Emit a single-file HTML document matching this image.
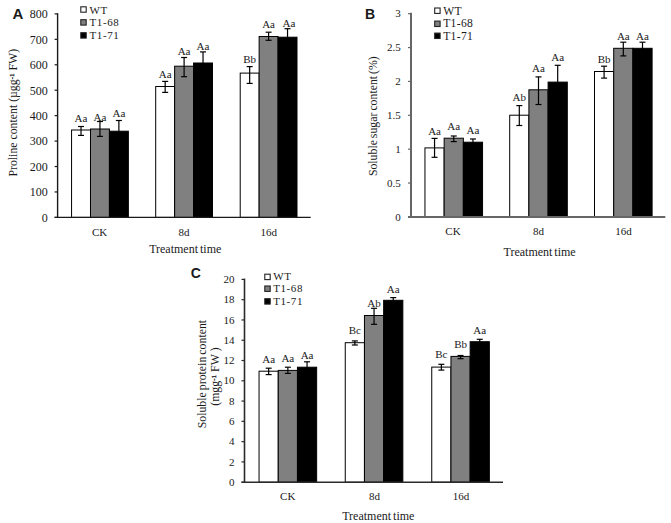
<!DOCTYPE html><html><head><meta charset="utf-8"><title>Charts</title><style>html,body{margin:0;padding:0;background:#fff;}svg{display:block;font-family:"Liberation Serif",serif;}text{fill:#1a1a1a;}</style></head><body>
<svg width="671" height="523" viewBox="0 0 671 523">
<rect width="671" height="523" fill="#fff"/>
<line x1="54.60" y1="217.40" x2="57.60" y2="217.40" stroke="#1a1a1a" stroke-width="1.2"/>
<text x="47.80" y="221.70" font-size="12" text-anchor="end" >0</text>
<line x1="54.60" y1="191.96" x2="57.60" y2="191.96" stroke="#1a1a1a" stroke-width="1.2"/>
<text x="47.80" y="196.26" font-size="12" text-anchor="end" >100</text>
<line x1="54.60" y1="166.53" x2="57.60" y2="166.53" stroke="#1a1a1a" stroke-width="1.2"/>
<text x="47.80" y="170.83" font-size="12" text-anchor="end" >200</text>
<line x1="54.60" y1="141.09" x2="57.60" y2="141.09" stroke="#1a1a1a" stroke-width="1.2"/>
<text x="47.80" y="145.39" font-size="12" text-anchor="end" >300</text>
<line x1="54.60" y1="115.65" x2="57.60" y2="115.65" stroke="#1a1a1a" stroke-width="1.2"/>
<text x="47.80" y="119.95" font-size="12" text-anchor="end" >400</text>
<line x1="54.60" y1="90.21" x2="57.60" y2="90.21" stroke="#1a1a1a" stroke-width="1.2"/>
<text x="47.80" y="94.51" font-size="12" text-anchor="end" >500</text>
<line x1="54.60" y1="64.78" x2="57.60" y2="64.78" stroke="#1a1a1a" stroke-width="1.2"/>
<text x="47.80" y="69.08" font-size="12" text-anchor="end" >600</text>
<line x1="54.60" y1="39.34" x2="57.60" y2="39.34" stroke="#1a1a1a" stroke-width="1.2"/>
<text x="47.80" y="43.64" font-size="12" text-anchor="end" >700</text>
<line x1="54.60" y1="13.90" x2="57.60" y2="13.90" stroke="#1a1a1a" stroke-width="1.2"/>
<text x="47.80" y="18.20" font-size="12" text-anchor="end" >800</text>
<rect x="71.56" y="130.00" width="18.93" height="87.40" fill="#fff" stroke="#000" stroke-width="1"/>
<rect x="90.49" y="129.00" width="18.93" height="88.40" fill="#808080" stroke="#000" stroke-width="1"/>
<rect x="109.42" y="131.20" width="18.93" height="86.20" fill="#000" stroke="#000" stroke-width="1"/>
<line x1="81.02" y1="126.50" x2="81.02" y2="135.40" stroke="#000" stroke-width="1.2"/>
<line x1="78.02" y1="126.50" x2="84.02" y2="126.50" stroke="#000" stroke-width="1.2"/>
<line x1="78.02" y1="135.40" x2="84.02" y2="135.40" stroke="#000" stroke-width="1.2"/>
<text x="81.02" y="122.40" font-size="11" text-anchor="middle" >Aa</text>
<line x1="99.95" y1="121.50" x2="99.95" y2="136.40" stroke="#000" stroke-width="1.2"/>
<line x1="96.95" y1="121.50" x2="102.95" y2="121.50" stroke="#000" stroke-width="1.2"/>
<line x1="96.95" y1="136.40" x2="102.95" y2="136.40" stroke="#000" stroke-width="1.2"/>
<text x="99.95" y="120.50" font-size="11" text-anchor="middle" >Aa</text>
<line x1="118.88" y1="120.50" x2="118.88" y2="141.90" stroke="#000" stroke-width="1.2"/>
<line x1="115.88" y1="120.50" x2="121.88" y2="120.50" stroke="#000" stroke-width="1.2"/>
<text x="118.88" y="116.70" font-size="11" text-anchor="middle" >Aa</text>
<rect x="155.70" y="86.50" width="18.93" height="130.90" fill="#fff" stroke="#000" stroke-width="1"/>
<rect x="174.63" y="66.20" width="18.93" height="151.20" fill="#808080" stroke="#000" stroke-width="1"/>
<rect x="193.56" y="63.00" width="18.93" height="154.40" fill="#000" stroke="#000" stroke-width="1"/>
<line x1="165.17" y1="81.40" x2="165.17" y2="92.40" stroke="#000" stroke-width="1.2"/>
<line x1="162.17" y1="81.40" x2="168.17" y2="81.40" stroke="#000" stroke-width="1.2"/>
<line x1="162.17" y1="92.40" x2="168.17" y2="92.40" stroke="#000" stroke-width="1.2"/>
<text x="165.17" y="77.90" font-size="11" text-anchor="middle" >Aa</text>
<line x1="184.10" y1="57.50" x2="184.10" y2="76.70" stroke="#000" stroke-width="1.2"/>
<line x1="181.10" y1="57.50" x2="187.10" y2="57.50" stroke="#000" stroke-width="1.2"/>
<line x1="181.10" y1="76.70" x2="187.10" y2="76.70" stroke="#000" stroke-width="1.2"/>
<text x="184.10" y="55.30" font-size="11" text-anchor="middle" >Aa</text>
<line x1="203.03" y1="51.90" x2="203.03" y2="74.10" stroke="#000" stroke-width="1.2"/>
<line x1="200.03" y1="51.90" x2="206.03" y2="51.90" stroke="#000" stroke-width="1.2"/>
<text x="203.03" y="50.10" font-size="11" text-anchor="middle" >Aa</text>
<rect x="240.21" y="73.10" width="18.93" height="144.30" fill="#fff" stroke="#000" stroke-width="1"/>
<rect x="259.13" y="36.50" width="18.93" height="180.90" fill="#808080" stroke="#000" stroke-width="1"/>
<rect x="278.06" y="37.20" width="18.93" height="180.20" fill="#000" stroke="#000" stroke-width="1"/>
<line x1="249.67" y1="66.60" x2="249.67" y2="83.40" stroke="#000" stroke-width="1.2"/>
<line x1="246.67" y1="66.60" x2="252.67" y2="66.60" stroke="#000" stroke-width="1.2"/>
<line x1="246.67" y1="83.40" x2="252.67" y2="83.40" stroke="#000" stroke-width="1.2"/>
<text x="249.67" y="62.80" font-size="11" text-anchor="middle" >Bb</text>
<line x1="268.60" y1="32.20" x2="268.60" y2="40.30" stroke="#000" stroke-width="1.2"/>
<line x1="265.60" y1="32.20" x2="271.60" y2="32.20" stroke="#000" stroke-width="1.2"/>
<line x1="265.60" y1="40.30" x2="271.60" y2="40.30" stroke="#000" stroke-width="1.2"/>
<text x="268.60" y="27.90" font-size="11" text-anchor="middle" >Aa</text>
<line x1="287.53" y1="28.70" x2="287.53" y2="45.70" stroke="#000" stroke-width="1.2"/>
<line x1="284.53" y1="28.70" x2="290.53" y2="28.70" stroke="#000" stroke-width="1.2"/>
<text x="289.03" y="26.50" font-size="11" text-anchor="middle" >Aa</text>
<line x1="57.60" y1="13.20" x2="57.60" y2="217.40" stroke="#1a1a1a" stroke-width="1.4"/>
<line x1="54.60" y1="217.40" x2="310.70" y2="217.40" stroke="#1a1a1a" stroke-width="1.4"/>
<text x="99.65" y="236.00" font-size="11" text-anchor="middle" >CK</text>
<text x="184.10" y="236.00" font-size="11" text-anchor="middle" >8d</text>
<text x="268.70" y="236.00" font-size="11" text-anchor="middle" >16d</text>
<text x="185.25" y="253.20" font-size="12" text-anchor="middle" word-spacing="-1">Treatment time</text>
<rect x="80.80" y="6.80" width="5.4" height="5.4" fill="#fff" stroke="#222" stroke-width="1.1"/>
<text x="89.50" y="13.90" font-size="11" text-anchor="start" letter-spacing="0.6">WT</text>
<rect x="80.80" y="19.70" width="5.4" height="5.4" fill="#808080" stroke="#222" stroke-width="1.1"/>
<text x="89.50" y="26.40" font-size="11" text-anchor="start" letter-spacing="0.6">T1-68</text>
<rect x="80.80" y="32.70" width="5.4" height="5.4" fill="#000" stroke="#222" stroke-width="1.1"/>
<text x="89.50" y="38.90" font-size="11" text-anchor="start" letter-spacing="0.6">T1-71</text>
<text x="12.6" y="18.8" font-family="Liberation Sans, sans-serif" font-weight="bold" font-size="15">A</text>
<line x1="408.00" y1="216.90" x2="411.00" y2="216.90" stroke="#666" stroke-width="1.2"/>
<text x="400.80" y="220.50" font-size="11" text-anchor="end" >0</text>
<line x1="408.00" y1="183.03" x2="411.00" y2="183.03" stroke="#666" stroke-width="1.2"/>
<text x="400.80" y="186.63" font-size="11" text-anchor="end" >0.5</text>
<line x1="408.00" y1="149.17" x2="411.00" y2="149.17" stroke="#666" stroke-width="1.2"/>
<text x="400.80" y="152.77" font-size="11" text-anchor="end" >1</text>
<line x1="408.00" y1="115.30" x2="411.00" y2="115.30" stroke="#666" stroke-width="1.2"/>
<text x="400.80" y="118.90" font-size="11" text-anchor="end" >1.5</text>
<line x1="408.00" y1="81.43" x2="411.00" y2="81.43" stroke="#666" stroke-width="1.2"/>
<text x="400.80" y="85.03" font-size="11" text-anchor="end" >2</text>
<line x1="408.00" y1="47.57" x2="411.00" y2="47.57" stroke="#666" stroke-width="1.2"/>
<text x="400.80" y="51.17" font-size="11" text-anchor="end" >2.5</text>
<line x1="408.00" y1="13.70" x2="411.00" y2="13.70" stroke="#666" stroke-width="1.2"/>
<text x="400.80" y="17.30" font-size="11" text-anchor="end" >3</text>
<rect x="424.95" y="147.90" width="19.20" height="69.00" fill="#fff" stroke="#000" stroke-width="1"/>
<rect x="444.15" y="138.20" width="19.20" height="78.70" fill="#808080" stroke="#000" stroke-width="1"/>
<rect x="463.35" y="142.20" width="19.20" height="74.70" fill="#000" stroke="#000" stroke-width="1"/>
<line x1="434.55" y1="138.40" x2="434.55" y2="157.30" stroke="#000" stroke-width="1.2"/>
<line x1="431.55" y1="138.40" x2="437.55" y2="138.40" stroke="#000" stroke-width="1.2"/>
<line x1="431.55" y1="157.30" x2="437.55" y2="157.30" stroke="#000" stroke-width="1.2"/>
<text x="434.55" y="134.70" font-size="11" text-anchor="middle" >Aa</text>
<line x1="453.75" y1="136.00" x2="453.75" y2="141.60" stroke="#000" stroke-width="1.2"/>
<line x1="450.75" y1="136.00" x2="456.75" y2="136.00" stroke="#000" stroke-width="1.2"/>
<line x1="450.75" y1="141.60" x2="456.75" y2="141.60" stroke="#000" stroke-width="1.2"/>
<text x="453.75" y="129.70" font-size="11" text-anchor="middle" >Aa</text>
<line x1="472.95" y1="139.00" x2="472.95" y2="145.40" stroke="#000" stroke-width="1.2"/>
<line x1="469.95" y1="139.00" x2="475.95" y2="139.00" stroke="#000" stroke-width="1.2"/>
<text x="472.95" y="133.60" font-size="11" text-anchor="middle" >Aa</text>
<rect x="509.70" y="115.20" width="19.20" height="101.70" fill="#fff" stroke="#000" stroke-width="1"/>
<rect x="528.90" y="89.80" width="19.20" height="127.10" fill="#808080" stroke="#000" stroke-width="1"/>
<rect x="548.10" y="82.10" width="19.20" height="134.80" fill="#000" stroke="#000" stroke-width="1"/>
<line x1="519.30" y1="105.60" x2="519.30" y2="125.50" stroke="#000" stroke-width="1.2"/>
<line x1="516.30" y1="105.60" x2="522.30" y2="105.60" stroke="#000" stroke-width="1.2"/>
<line x1="516.30" y1="125.50" x2="522.30" y2="125.50" stroke="#000" stroke-width="1.2"/>
<text x="519.30" y="100.90" font-size="11" text-anchor="middle" >Ab</text>
<line x1="538.50" y1="76.90" x2="538.50" y2="104.50" stroke="#000" stroke-width="1.2"/>
<line x1="535.50" y1="76.90" x2="541.50" y2="76.90" stroke="#000" stroke-width="1.2"/>
<line x1="535.50" y1="104.50" x2="541.50" y2="104.50" stroke="#000" stroke-width="1.2"/>
<text x="538.50" y="72.00" font-size="11" text-anchor="middle" >Aa</text>
<line x1="557.70" y1="65.30" x2="557.70" y2="98.90" stroke="#000" stroke-width="1.2"/>
<line x1="554.70" y1="65.30" x2="560.70" y2="65.30" stroke="#000" stroke-width="1.2"/>
<text x="557.70" y="61.40" font-size="11" text-anchor="middle" >Aa</text>
<rect x="594.50" y="71.50" width="19.20" height="145.40" fill="#fff" stroke="#000" stroke-width="1"/>
<rect x="613.70" y="48.30" width="19.20" height="168.60" fill="#808080" stroke="#000" stroke-width="1"/>
<rect x="632.90" y="48.30" width="19.20" height="168.60" fill="#000" stroke="#000" stroke-width="1"/>
<line x1="604.10" y1="66.20" x2="604.10" y2="78.10" stroke="#000" stroke-width="1.2"/>
<line x1="601.10" y1="66.20" x2="607.10" y2="66.20" stroke="#000" stroke-width="1.2"/>
<line x1="601.10" y1="78.10" x2="607.10" y2="78.10" stroke="#000" stroke-width="1.2"/>
<text x="604.10" y="63.10" font-size="11" text-anchor="middle" >Bb</text>
<line x1="623.30" y1="42.20" x2="623.30" y2="55.90" stroke="#000" stroke-width="1.2"/>
<line x1="620.30" y1="42.20" x2="626.30" y2="42.20" stroke="#000" stroke-width="1.2"/>
<line x1="620.30" y1="55.90" x2="626.30" y2="55.90" stroke="#000" stroke-width="1.2"/>
<text x="623.30" y="39.90" font-size="11" text-anchor="middle" >Aa</text>
<line x1="642.50" y1="42.20" x2="642.50" y2="54.40" stroke="#000" stroke-width="1.2"/>
<line x1="639.50" y1="42.20" x2="645.50" y2="42.20" stroke="#000" stroke-width="1.2"/>
<text x="642.50" y="39.90" font-size="11" text-anchor="middle" >Aa</text>
<line x1="411.00" y1="12.70" x2="411.00" y2="216.90" stroke="#666" stroke-width="2"/>
<line x1="408.00" y1="216.90" x2="665.30" y2="216.90" stroke="#666" stroke-width="2"/>
<text x="453.00" y="235.30" font-size="11" text-anchor="middle" >CK</text>
<text x="538.50" y="235.30" font-size="11" text-anchor="middle" >8d</text>
<text x="623.50" y="235.30" font-size="11" text-anchor="middle" >16d</text>
<text x="539.60" y="255.50" font-size="12" text-anchor="middle" word-spacing="-1">Treatment time</text>
<rect x="434.70" y="8.00" width="5.4" height="5.4" fill="#fff" stroke="#222" stroke-width="1.1"/>
<text x="443.20" y="14.60" font-size="11.6" text-anchor="start" letter-spacing="0.35">WT</text>
<rect x="434.70" y="21.10" width="5.4" height="5.4" fill="#808080" stroke="#222" stroke-width="1.1"/>
<text x="443.20" y="27.20" font-size="11.6" text-anchor="start" letter-spacing="0.35">T1-68</text>
<rect x="434.70" y="33.10" width="5.4" height="5.4" fill="#000" stroke="#222" stroke-width="1.1"/>
<text x="443.20" y="39.80" font-size="11.6" text-anchor="start" letter-spacing="0.35">T1-71</text>
<text x="365.1" y="18.7" font-family="Liberation Sans, sans-serif" font-weight="bold" font-size="14">B</text>
<line x1="241.50" y1="482.20" x2="244.50" y2="482.20" stroke="#2a2a2a" stroke-width="1.2"/>
<text x="234.60" y="485.80" font-size="11" text-anchor="end" >0</text>
<line x1="241.50" y1="461.92" x2="244.50" y2="461.92" stroke="#2a2a2a" stroke-width="1.2"/>
<text x="234.60" y="465.52" font-size="11" text-anchor="end" >2</text>
<line x1="241.50" y1="441.64" x2="244.50" y2="441.64" stroke="#2a2a2a" stroke-width="1.2"/>
<text x="234.60" y="445.24" font-size="11" text-anchor="end" >4</text>
<line x1="241.50" y1="421.36" x2="244.50" y2="421.36" stroke="#2a2a2a" stroke-width="1.2"/>
<text x="234.60" y="424.96" font-size="11" text-anchor="end" >6</text>
<line x1="241.50" y1="401.08" x2="244.50" y2="401.08" stroke="#2a2a2a" stroke-width="1.2"/>
<text x="234.60" y="404.68" font-size="11" text-anchor="end" >8</text>
<line x1="241.50" y1="380.80" x2="244.50" y2="380.80" stroke="#2a2a2a" stroke-width="1.2"/>
<text x="234.60" y="384.40" font-size="11" text-anchor="end" >10</text>
<line x1="241.50" y1="360.52" x2="244.50" y2="360.52" stroke="#2a2a2a" stroke-width="1.2"/>
<text x="234.60" y="364.12" font-size="11" text-anchor="end" >12</text>
<line x1="241.50" y1="340.24" x2="244.50" y2="340.24" stroke="#2a2a2a" stroke-width="1.2"/>
<text x="234.60" y="343.84" font-size="11" text-anchor="end" >14</text>
<line x1="241.50" y1="319.96" x2="244.50" y2="319.96" stroke="#2a2a2a" stroke-width="1.2"/>
<text x="234.60" y="323.56" font-size="11" text-anchor="end" >16</text>
<line x1="241.50" y1="299.68" x2="244.50" y2="299.68" stroke="#2a2a2a" stroke-width="1.2"/>
<text x="234.60" y="303.28" font-size="11" text-anchor="end" >18</text>
<line x1="241.50" y1="279.40" x2="244.50" y2="279.40" stroke="#2a2a2a" stroke-width="1.2"/>
<text x="234.60" y="283.00" font-size="11" text-anchor="end" >20</text>
<rect x="259.05" y="371.20" width="19.20" height="111.00" fill="#fff" stroke="#000" stroke-width="1"/>
<rect x="278.25" y="370.40" width="19.20" height="111.80" fill="#808080" stroke="#000" stroke-width="1"/>
<rect x="297.45" y="367.20" width="19.20" height="115.00" fill="#000" stroke="#000" stroke-width="1"/>
<line x1="268.65" y1="368.20" x2="268.65" y2="374.60" stroke="#000" stroke-width="1.2"/>
<line x1="265.65" y1="368.20" x2="271.65" y2="368.20" stroke="#000" stroke-width="1.2"/>
<line x1="265.65" y1="374.60" x2="271.65" y2="374.60" stroke="#000" stroke-width="1.2"/>
<text x="268.65" y="362.60" font-size="11" text-anchor="middle" >Aa</text>
<line x1="287.85" y1="367.20" x2="287.85" y2="373.40" stroke="#000" stroke-width="1.2"/>
<line x1="284.85" y1="367.20" x2="290.85" y2="367.20" stroke="#000" stroke-width="1.2"/>
<line x1="284.85" y1="373.40" x2="290.85" y2="373.40" stroke="#000" stroke-width="1.2"/>
<text x="287.85" y="361.80" font-size="11" text-anchor="middle" >Aa</text>
<line x1="307.05" y1="361.80" x2="307.05" y2="372.60" stroke="#000" stroke-width="1.2"/>
<line x1="304.05" y1="361.80" x2="310.05" y2="361.80" stroke="#000" stroke-width="1.2"/>
<text x="307.05" y="358.50" font-size="11" text-anchor="middle" >Aa</text>
<rect x="345.25" y="342.70" width="19.20" height="139.50" fill="#fff" stroke="#000" stroke-width="1"/>
<rect x="364.45" y="315.50" width="19.20" height="166.70" fill="#808080" stroke="#000" stroke-width="1"/>
<rect x="383.65" y="300.30" width="19.20" height="181.90" fill="#000" stroke="#000" stroke-width="1"/>
<line x1="354.85" y1="340.90" x2="354.85" y2="345.00" stroke="#000" stroke-width="1.2"/>
<line x1="351.85" y1="340.90" x2="357.85" y2="340.90" stroke="#000" stroke-width="1.2"/>
<line x1="351.85" y1="345.00" x2="357.85" y2="345.00" stroke="#000" stroke-width="1.2"/>
<text x="354.85" y="333.80" font-size="11" text-anchor="middle" >Bc</text>
<line x1="374.05" y1="308.30" x2="374.05" y2="324.30" stroke="#000" stroke-width="1.2"/>
<line x1="371.05" y1="308.30" x2="377.05" y2="308.30" stroke="#000" stroke-width="1.2"/>
<line x1="371.05" y1="324.30" x2="377.05" y2="324.30" stroke="#000" stroke-width="1.2"/>
<text x="374.05" y="307.20" font-size="11" text-anchor="middle" >Ab</text>
<line x1="393.25" y1="297.60" x2="393.25" y2="303.00" stroke="#000" stroke-width="1.2"/>
<line x1="390.25" y1="297.60" x2="396.25" y2="297.60" stroke="#000" stroke-width="1.2"/>
<text x="393.25" y="292.70" font-size="11" text-anchor="middle" >Aa</text>
<rect x="431.75" y="367.10" width="19.20" height="115.10" fill="#fff" stroke="#000" stroke-width="1"/>
<rect x="450.95" y="356.40" width="19.20" height="125.80" fill="#808080" stroke="#000" stroke-width="1"/>
<rect x="470.15" y="341.70" width="19.20" height="140.50" fill="#000" stroke="#000" stroke-width="1"/>
<line x1="441.35" y1="364.30" x2="441.35" y2="370.10" stroke="#000" stroke-width="1.2"/>
<line x1="438.35" y1="364.30" x2="444.35" y2="364.30" stroke="#000" stroke-width="1.2"/>
<line x1="438.35" y1="370.10" x2="444.35" y2="370.10" stroke="#000" stroke-width="1.2"/>
<text x="441.35" y="358.10" font-size="11" text-anchor="middle" >Bc</text>
<line x1="460.55" y1="355.50" x2="460.55" y2="358.70" stroke="#000" stroke-width="1.2"/>
<line x1="457.55" y1="355.50" x2="463.55" y2="355.50" stroke="#000" stroke-width="1.2"/>
<line x1="457.55" y1="358.70" x2="463.55" y2="358.70" stroke="#000" stroke-width="1.2"/>
<text x="460.55" y="348.20" font-size="11" text-anchor="middle" >Bb</text>
<line x1="479.75" y1="339.30" x2="479.75" y2="344.10" stroke="#000" stroke-width="1.2"/>
<line x1="476.75" y1="339.30" x2="482.75" y2="339.30" stroke="#000" stroke-width="1.2"/>
<text x="479.75" y="334.10" font-size="11" text-anchor="middle" >Aa</text>
<line x1="244.50" y1="278.60" x2="244.50" y2="482.20" stroke="#2a2a2a" stroke-width="1.6"/>
<line x1="241.50" y1="482.20" x2="503.00" y2="482.20" stroke="#2a2a2a" stroke-width="1.6"/>
<text x="287.70" y="499.80" font-size="11" text-anchor="middle" >CK</text>
<text x="374.50" y="499.80" font-size="11" text-anchor="middle" >8d</text>
<text x="461.00" y="499.80" font-size="11" text-anchor="middle" >16d</text>
<text x="378.30" y="520.00" font-size="12" text-anchor="middle" word-spacing="-1">Treatment time</text>
<rect x="264.80" y="274.20" width="5.4" height="5.4" fill="#fff" stroke="#222" stroke-width="1.1"/>
<text x="273.20" y="280.30" font-size="11" text-anchor="start" letter-spacing="0.6">WT</text>
<rect x="264.80" y="286.00" width="5.4" height="5.4" fill="#808080" stroke="#222" stroke-width="1.1"/>
<text x="273.20" y="292.40" font-size="11" text-anchor="start" letter-spacing="0.6">T1-68</text>
<rect x="264.80" y="298.70" width="5.4" height="5.4" fill="#000" stroke="#222" stroke-width="1.1"/>
<text x="273.20" y="305.30" font-size="11" text-anchor="start" letter-spacing="0.6">T1-71</text>
<text x="190.8" y="277.6" font-family="Liberation Sans, sans-serif" font-weight="bold" font-size="14">C</text>
<text transform="translate(17.2,112.7) rotate(-90)" text-anchor="middle" font-size="11.8">Proline content (µgg<tspan font-size="7.1" dy="-3.2" stroke="#222" stroke-width="0.35">-1</tspan><tspan dy="3.2"> </tspan>FW)</text>
<text transform="translate(376.6,116.2) rotate(-90)" text-anchor="middle" font-size="11.8" word-spacing="-1">Soluble sugar content (%)</text>
<text transform="translate(206.1,374.1) rotate(-90)" text-anchor="middle" font-size="11.85" word-spacing="-1">Soluble protein content</text>
<text transform="translate(219.2,376.6) rotate(-90)" text-anchor="middle" font-size="11.85">(mgg<tspan font-size="7.1" dy="-3.2" stroke="#222" stroke-width="0.35">-1</tspan><tspan dy="3.2"> </tspan>FW )</text>
</svg></body></html>
